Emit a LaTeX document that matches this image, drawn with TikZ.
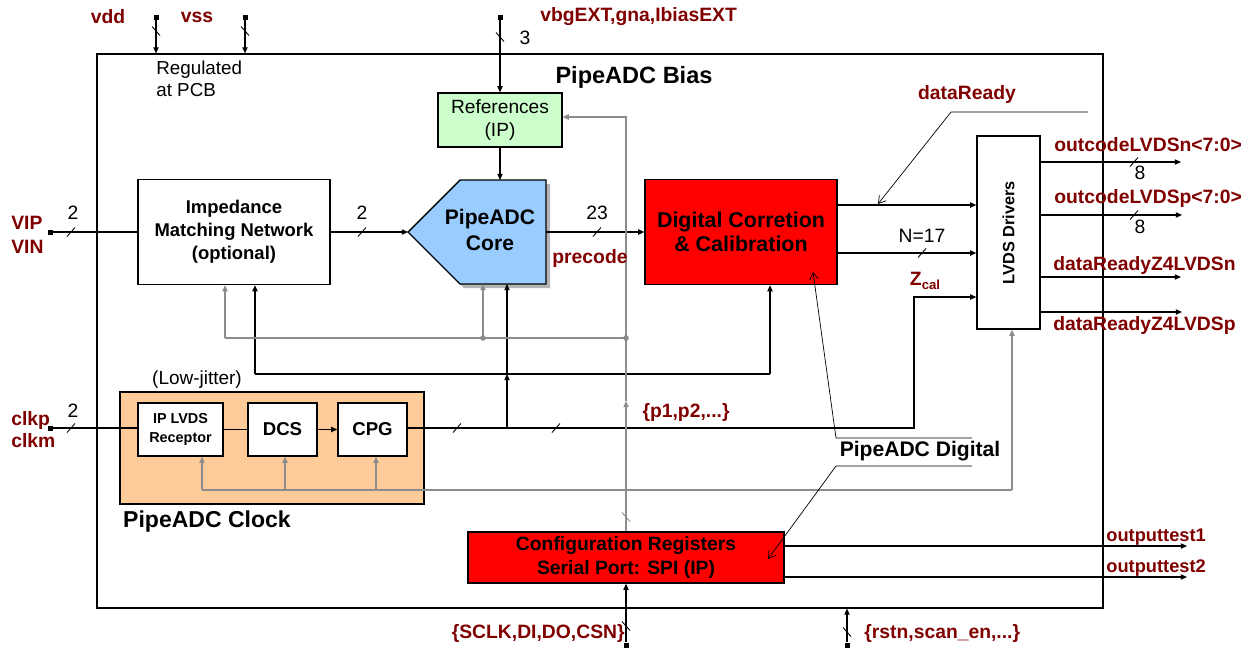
\documentclass[tikz,border=0pt]{standalone}
\usepackage{fontspec}
\setmainfont{Liberation Sans}
\usetikzlibrary{arrows.meta}
\definecolor{dred}{RGB}{128,0,0}
\definecolor{lgreen}{RGB}{204,255,204}
\definecolor{lblue}{RGB}{153,204,255}
\definecolor{peach}{RGB}{255,204,153}
\definecolor{gline}{RGB}{140,140,140}
\definecolor{shadowgray}{RGB}{180,180,180}
\definecolor{bred}{RGB}{255,0,0}
\begin{document}
\begin{tikzpicture}[x=0.02cm,y=-0.02cm,
  box/.style={draw, line width=0.8pt, inner sep=0pt, align=center},
  lbl/.style={text=dred, font=\fontsize{11}{13}\selectfont\bfseries, inner sep=0pt},
  num/.style={font=\fontsize{11}{13}\selectfont, inner sep=0pt},
  wire/.style={line width=0.6pt},
  arr/.style={wire, -{Triangle[length=3.5pt,width=3pt]}},
  gwire/.style={draw=gline, line width=0.7pt},
  garr/.style={gwire, -{Triangle[length=3.5pt,width=3pt]}},
  call/.style={line width=0.4pt, -{Straight Barb[length=4pt,width=5pt]}},
  pinsq/.style={fill=black, minimum size=0.1cm, inner sep=0pt},
  pics/hbus/.style={code={\draw[line width=0.5pt] (-4,4.5) -- (4,-4.5);}},
  pics/vbus/.style={code={\draw[line width=0.5pt] (-4,-4.5) -- (4,4.5);}}
]
\useasboundingbox (0,0) rectangle (1250,647);

% main frame
\node[draw, line width=0.7pt, minimum width=20.12cm, minimum height=11.08cm, inner sep=0pt] (main) at (600,331) {};

% blocks
\node[box, fill=lgreen, line width=0.7pt, minimum width=2.48cm, minimum height=1.08cm,
      font=\fontsize{10.9}{13.6}\selectfont] (refs) at (500,120) {References\\(IP)};
\node[box, fill=white, minimum width=3.84cm, minimum height=2.1cm,
      font=\fontsize{10.5}{13}\selectfont\bfseries] (imp) at (234,232) {Impedance\\Matching Network\\(optional)};
\node[box, fill=bred, minimum width=3.84cm, minimum height=2.1cm,
      font=\fontsize{12.2}{14}\selectfont\bfseries] (dig) at (741,232) {Digital Corretion\\\& Calibration};
\node[box, fill=white, minimum width=1.26cm, minimum height=3.86cm] (lvds) at (1008.5,232.5) {};
\node[rotate=90, font=\fontsize{9.3}{11}\selectfont\bfseries, inner sep=0pt] (lvdstxt) at (lvds.center) {LVDS Drivers};

% core pentagon
\fill[shadowgray] (412,236) -- (464,184) -- (550,184) -- (550,288) -- (464,288) -- cycle;
\draw[fill=lblue, line width=0.8pt] (408,232) -- (460,180) -- (546,180) -- (546,284) -- (460,284) -- cycle;
\node[font=\fontsize{12}{14.5}\selectfont\bfseries, align=center, inner sep=0pt] (core) at (490,230) {PipeADC\\Core};
\coordinate (coreW) at (408,232);
\coordinate (coreE) at (546,232);
\coordinate (coreN) at (500,180);
\coordinate (coreSg) at (483,284);
\coordinate (coreSb) at (507,284);

% clock block
\node[box, fill=peach, minimum width=6.08cm, minimum height=2.24cm] (clk) at (272,448) {};
\node[box, fill=white, minimum width=1.7cm, minimum height=1.06cm,
      font=\fontsize{8.2}{10.8}\selectfont\bfseries] (iprx) at (180.5,429.5) {IP LVDS\\Receptor};
\node[box, fill=white, minimum width=1.38cm, minimum height=1.06cm,
      font=\fontsize{10.6}{12}\selectfont\bfseries] (dcs) at (282.5,429.5) {DCS};
\node[box, fill=white, minimum width=1.38cm, minimum height=1.06cm,
      font=\fontsize{10.6}{12}\selectfont\bfseries] (cpg) at (372.5,429.5) {CPG};

% SPI
\node[box, fill=bred, minimum width=6.32cm, minimum height=1.02cm,
      font=\fontsize{11}{13.6}\selectfont\bfseries] (spi) at (626,557.5) {Configuration Registers\\Serial Port: SPI (IP)};

% pins
\node[pinsq] (pvdd) at (156,17) {};
\node[pinsq] (pvss) at (245,17) {};
\node[pinsq] (pvbg) at (500,17) {};
\node[pinsq] (pvip) at (50,232) {};
\node[pinsq] (pclk) at (50,428) {};
\node[pinsq] (psclk) at (626,645) {};
\node[pinsq] (prstn) at (847,645) {};

% supply / bias inputs
\draw[arr] (pvdd) -- (pvdd |- main.north);
\draw[arr] (pvss) -- (pvss |- main.north);
\draw[arr] (pvbg) -- (refs.north);
\pic at (156,31) {vbus};
\pic at (245,31) {vbus};
\pic at (500,37) {vbus};

% analog path
\draw[wire] (pvip) -- (pvip -| imp.west);
\pic at (71,232) {hbus};
\draw[arr] (imp.east |- coreW) -- (coreW);
\pic at (362,232) {hbus};
\draw[arr] (refs.south) -- (coreN);
\draw[arr] (coreE) -- (coreE -| dig.west);
\pic at (597,232) {hbus};

% digital -> LVDS
\coordinate (d1) at (837,205);
\coordinate (d2) at (837,253);
\draw[arr] (d1) -- (d1 -| lvds.west);
\draw[arr] (d2) -- (d2 -| lvds.west);
\pic at (922,253) {hbus};

% LVDS outputs
\coordinate (o1) at (1040,162); \coordinate (o1e) at (1181,162);
\coordinate (o2) at (1040,215); \coordinate (o2e) at (1182,215);
\coordinate (o3) at (1040,277); \coordinate (o3e) at (1181,277);
\coordinate (o4) at (1040,312); \coordinate (o4e) at (1182,312);
\draw[arr] (o1) -- (o1e);
\draw[arr] (o2) -- (o2e);
\draw[arr] (o3) -- (o3e);
\draw[arr] (o4) -- (o4e);
\pic at (1134,162) {hbus};
\pic at (1134,215) {hbus};

% clock path
\draw[wire] (pclk) -- (pclk -| iprx.west);
\pic at (71,428) {hbus};
\draw[wire] (iprx.east) -- (dcs.west);
\draw[arr] (dcs.east) -- (cpg.west);
\coordinate (cpgo) at (407,428);
\coordinate (zturn) at (914,428);
\coordinate (zin) at (914,297);
\draw[arr] (cpgo) -- (zturn) -- (zin) -- (zin -| lvds.west);
\pic at (457,428) {hbus};
\pic at (556,428) {hbus};

% clock branch to core / imp / digital
\coordinate (brk) at (507,428);
\coordinate (busL) at (255,374);
\coordinate (busR) at (770,374);
\coordinate (busM) at (507,374);
\draw[arr] (brk) -- (busM);
\draw[arr] (busM) -- (coreSb);
\draw[wire] (busL) -- (busR);
\draw[arr] (busL) -- (busL |- imp.south);
\draw[arr] (busR) -- (busR |- dig.south);

% gray configuration lines
\coordinate (gtop) at (626,117);
\coordinate (gmid) at (626,401);
\coordinate (gdot) at (626,338);
\coordinate (gdot2) at (483,338);
\coordinate (gleft) at (225,338);
\draw[garr] (spi.north) -- (gmid);
\draw[garr] (gmid) -- (gtop) -- (gtop -| refs.east);
\pic[color=gline] at (626,517) {vbus};
\draw[gwire] (gleft) -- (gdot);
\draw[garr] (gleft) -- (gleft |- imp.south);
\draw[garr] (gdot2) -- (coreSg);
\fill[gline] (gdot) circle[radius=1.6pt];
\fill[gline] (gdot2) circle[radius=1.6pt];

\coordinate (c1) at (202,490);
\coordinate (c2) at (285,490);
\coordinate (c3) at (376,490);
\coordinate (c4) at (1012,490);
\draw[garr] (c1) -- (c1 |- iprx.south);
\draw[garr] (c2) -- (c2 |- dcs.south);
\draw[garr] (c3) -- (c3 |- cpg.south);
\draw[gwire] (c1) -- (c4);
\draw[garr] (c4) -- (c4 |- lvds.south);

% SPI outputs and inputs
\coordinate (s1) at (784,546); \coordinate (s1e) at (1187,546);
\coordinate (s2) at (784,577); \coordinate (s2e) at (1187,577);
\draw[arr] (s1) -- (s1e);
\draw[arr] (s2) -- (s2e);
\draw[arr] (psclk) -- (spi.south);
\pic at (626,626) {vbus};
\draw[arr] (prstn) -- (prstn |- main.south);
\pic at (847,632) {vbus};

% callouts
\coordinate (dr1) at (1088,112);
\coordinate (dr2) at (951,112);
\coordinate (dr3) at (878,204);
\draw[call] (dr1) -- (dr2) -- (dr3);
\coordinate (pd1) at (972,438);
\coordinate (pd2) at (836,438);
\coordinate (pd3) at (813,272);
\draw[call] (pd1) -- (pd2) -- (pd3);
\coordinate (pd4) at (972,466);
\coordinate (pd5) at (836,466);
\coordinate (pd6) at (768,559);
\draw[call] (pd4) -- (pd5) -- (pd6);

% labels
\node[lbl] (tvdd) at (108,17) {vdd};
\node[lbl] (tvss) at (197,17) {vss};
\node[lbl, anchor=west] (tvbg) at (540,17) {vbgEXT,gna,IbiasEXT};
\node[num] (t3) at (525,38) {3};
\node[font=\fontsize{10.7}{12.5}\selectfont, anchor=west, align=left, inner sep=0pt] (treg) at (156,79) {Regulated\\at PCB};
\node[font=\fontsize{13.4}{15}\selectfont\bfseries, inner sep=0pt] (tbias) at (634,77) {PipeADC Bias};
\node[lbl, anchor=west, align=left, font=\fontsize{11}{13.6}\selectfont\bfseries] (tvip) at (11,235) {VIP\\VIN};
\node[lbl, anchor=west, align=left, font=\fontsize{11}{12.5}\selectfont\bfseries] (tclk) at (11,430) {clkp\\clkm};
\node[num] (t2a) at (73,213) {2};
\node[num] (t2b) at (362,213) {2};
\node[num] (t2c) at (73,411) {2};
\node[num] (t23) at (597,213) {23};
\node[lbl] (tpre) at (590,258) {precode};
\node[num] (tn17) at (922,236) {N=17};
\node[lbl] (tz) at (925,281) {Z\raisebox{-2pt}{\fontsize{7.5}{8}\selectfont cal}};
\node[lbl] (tp) at (686,412) {\{p1,p2,...\}};
\node[lbl] (tdr) at (967,94) {dataReady};
\node[lbl, anchor=west] (to1) at (1054,145) {outcodeLVDSn<7:0>};
\node[lbl, anchor=west] (to2) at (1054,198) {outcodeLVDSp<7:0>};
\node[lbl, anchor=west] (to3) at (1053,265) {dataReadyZ4LVDSn};
\node[lbl, anchor=west] (to4) at (1053,325) {dataReadyZ4LVDSp};
\node[num] (t8a) at (1140,173) {8};
\node[num] (t8b) at (1140,227) {8};
\node[font=\fontsize{10.8}{12}\selectfont, inner sep=0pt] (tlj) at (197,380) {(Low-jitter)};
\node[font=\fontsize{13.1}{15}\selectfont\bfseries, inner sep=0pt] (tclkb) at (207,522) {PipeADC Clock};
\node[font=\fontsize{12}{14}\selectfont\bfseries, inner sep=0pt] (tdigb) at (920,451) {PipeADC Digital};
\node[lbl, anchor=west, font=\fontsize{10.4}{12}\selectfont\bfseries] (tt1) at (1106,537) {outputtest1};
\node[lbl, anchor=west, font=\fontsize{10.4}{12}\selectfont\bfseries] (tt2) at (1106,568) {outputtest2};
\node[lbl, anchor=east] (tsclk) at (625,633) {\{SCLK,DI,DO,CSN\}};
\node[lbl, anchor=west] (trst) at (864,633) {\{rstn,scan\_en,...\}};
\end{tikzpicture}
\end{document}
